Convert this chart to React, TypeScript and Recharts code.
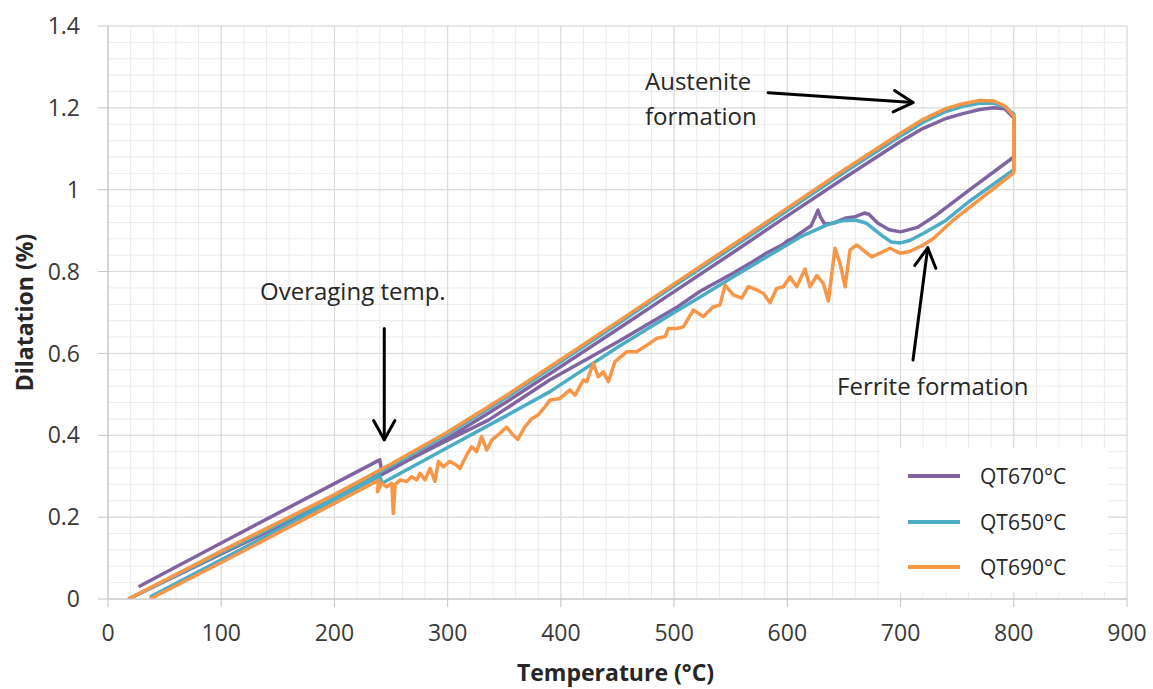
import React from "react";
import { LineChart, Line, XAxis, YAxis, CartesianGrid, ReferenceLine, ReferenceDot } from "recharts";

type Pt = [number, number];

const FONT = "'Open Sans', 'DejaVu Sans', sans-serif";
const INK = "#262626";
const PURPLE = "#8064A2";
const CYAN = "#4BACC6";
const ORANGE = "#F79646";

const X_DOMAIN: [number, number] = [0, 900];
const Y_DOMAIN: [number, number] = [0, 1.4];
const X_TICKS = [0, 100, 200, 300, 400, 500, 600, 700, 800, 900];
const Y_TICKS = [0, 0.2, 0.4, 0.6, 0.8, 1, 1.2, 1.4];
// minor grid every 20 °C / 0.04 %
const X_MINOR = Array.from({ length: 46 }, (_, i) => i * 20);
const Y_MINOR = Array.from({ length: 36 }, (_, i) => +(i * 0.04).toFixed(2));

// heating ramp, shared temperatures (°C)
const HEAT_T = [18, 100, 200, 250, 300, 350, 400, 450, 500, 550, 600, 650, 700, 720, 740, 755, 770, 782, 792, 800];
const HEAT_670 = [0, 0.11, 0.243, 0.316, 0.393, 0.478, 0.568, 0.659, 0.751, 0.843, 0.936, 1.028, 1.118, 1.15, 1.174, 1.186, 1.196, 1.2, 1.198, 1.176];
const HEAT_650 = [0, 0.113, 0.25, 0.325, 0.403, 0.489, 0.58, 0.672, 0.765, 0.856, 0.949, 1.042, 1.131, 1.165, 1.191, 1.204, 1.211, 1.211, 1.203, 1.185];
const HEAT_690 = [0, 0.117, 0.255, 0.33, 0.408, 0.494, 0.585, 0.677, 0.77, 0.862, 0.955, 1.048, 1.138, 1.172, 1.198, 1.21, 1.218, 1.217, 1.205, 1.18];

// cooling from 800 °C down to the overaging hold
const COOL_670: Pt[] = [
  [800, 1.08], [760, 0.998], [730, 0.935], [715, 0.908], [700, 0.897], [690, 0.902], [680, 0.918],
  [672, 0.94], [668, 0.943], [660, 0.934], [652, 0.931], [640, 0.918], [633, 0.916], [629, 0.935],
  [627, 0.95], [624, 0.93], [621, 0.912], [611, 0.893], [604, 0.88], [600, 0.875], [596, 0.866],
  [582, 0.846], [567, 0.82], [552, 0.796], [523, 0.752], [502, 0.712], [450, 0.628], [390, 0.535],
  [336, 0.437], [300, 0.388], [242, 0.307], [240, 0.34],
];
const COOL_650: Pt[] = [
  [800, 1.049], [760, 0.97], [740, 0.925], [720, 0.893], [708, 0.876], [700, 0.87], [692, 0.872],
  [685, 0.885], [670, 0.918], [660, 0.926], [650, 0.925], [640, 0.918], [635, 0.914], [611, 0.884],
  [582, 0.836], [552, 0.787], [523, 0.738], [500, 0.7], [450, 0.615], [390, 0.506], [350, 0.445],
  [300, 0.37], [242, 0.283], [240, 0.3],
];
const COOL_690: Pt[] = [
  [800, 1.041], [746.6, 0.926], [729, 0.881], [720, 0.865], [708, 0.849], [699.5, 0.845], [690.7, 0.857],
  [681.9, 0.845], [674.5, 0.836], [668.6, 0.849], [661.3, 0.865], [655.4, 0.853], [651, 0.763],
  [646.5, 0.82], [642.1, 0.857], [636.2, 0.728], [631.8, 0.771], [626, 0.79], [620, 0.763],
  [615.6, 0.806], [608.3, 0.763], [602.4, 0.787], [596.5, 0.763], [590.6, 0.759], [584.7, 0.724],
  [578.8, 0.747], [573, 0.755], [565.5, 0.763], [559.7, 0.735], [552.3, 0.743], [545, 0.767],
  [540.5, 0.718], [534.6, 0.714], [525.8, 0.69], [517, 0.706], [508.1, 0.665], [502.3, 0.661],
  [494.9, 0.661], [492, 0.641], [484.6, 0.637], [478.7, 0.625], [466.9, 0.604], [458.1, 0.604],
  [447.8, 0.58], [441.9, 0.531], [437.5, 0.555], [433, 0.543], [428.6, 0.576], [422.8, 0.531],
  [419.8, 0.535], [412.5, 0.498], [408, 0.511], [399.2, 0.49], [390.4, 0.486], [386, 0.47],
  [380, 0.45], [374, 0.44], [368, 0.42], [362, 0.39], [358, 0.4], [352, 0.42], [346.2, 0.405],
  [338.9, 0.388], [334.5, 0.364], [330, 0.397], [325.6, 0.36], [321.2, 0.372], [316.8, 0.352],
  [310.9, 0.319], [308, 0.327], [302, 0.336], [296.2, 0.323], [291.8, 0.336], [288.8, 0.287],
  [284.4, 0.319], [280, 0.291], [275.6, 0.307], [272.6, 0.291], [268.2, 0.299], [263.8, 0.287],
  [257.9, 0.291], [253.5, 0.279], [252, 0.209], [250.6, 0.283], [246.1, 0.274], [241.7, 0.283],
  [238, 0.262],
];

// final cooling to room temperature after the hold
const FINAL_670: Pt[] = [[240, 0.34], [100, 0.137], [27, 0.03]];
const FINAL_650: Pt[] = [[240, 0.3], [100, 0.096], [37, 0.005]];
const FINAL_690: Pt[] = [[239, 0.29], [100, 0.089], [37, 0]];

const heat = (vals: number[]): Pt[] => HEAT_T.map((t, i) => [t, vals[i]] as Pt);
const toRows = (pts: Pt[]) => pts.map(([t, d]) => ({ t, d }));

const SERIES = [
  { name: "QT670°C", color: PURPLE, rows: toRows([...heat(HEAT_670), ...COOL_670, ...FINAL_670]) },
  { name: "QT650°C", color: CYAN, rows: toRows([...heat(HEAT_650), ...COOL_650, ...FINAL_650]) },
  { name: "QT690°C", color: ORANGE, rows: toRows([...heat(HEAT_690), ...COOL_690, ...FINAL_690]) },
];

// annotation arrows (data coords) and labels
const ARROWS: [Pt, Pt][] = [
  [[244, 0.661], [244, 0.389]],
  [[583, 1.237], [711, 1.213]],
  [[711, 0.584], [724, 0.858]],
];
const NOTES: { x: number; y: number; text: string }[] = [
  { x: 134.3, y: 0.7305, text: "Overaging temp." },
  { x: 474.3, y: 1.2436, text: "Austenite" },
  { x: 474.3, y: 1.158, text: "formation" },
  { x: 643.9, y: 0.498, text: "Ferrite formation" },
];

function Arrow(props: any) {
  const { x1, y1, x2, y2 } = props;
  const a = Math.atan2(y2 - y1, x2 - x1);
  const h = (29 * Math.PI) / 180;
  const L = 22;
  const p1 = [x2 - L * Math.cos(a - h), y2 - L * Math.sin(a - h)];
  const p2 = [x2 - L * Math.cos(a + h), y2 - L * Math.sin(a + h)];
  return (
    <g stroke="#000" strokeWidth={3} fill="none" strokeLinecap="round" strokeLinejoin="round">
      <line x1={x1} y1={y1} x2={x2} y2={y2} />
      <polyline points={`${p1[0]},${p1[1]} ${x2},${y2} ${p2[0]},${p2[1]}`} />
    </g>
  );
}

// minor grid: use the axis scale when the generator gets one, else map across the plot box
const minorV = ({ xAxis, offset }: any) =>
  X_MINOR.map((v) =>
    typeof xAxis?.scale === "function"
      ? xAxis.scale(v)
      : offset.left + ((v - X_DOMAIN[0]) / (X_DOMAIN[1] - X_DOMAIN[0])) * offset.width,
  );
const minorH = ({ yAxis, offset }: any) =>
  Y_MINOR.map((v) =>
    typeof yAxis?.scale === "function"
      ? yAxis.scale(v)
      : offset.top + (1 - (v - Y_DOMAIN[0]) / (Y_DOMAIN[1] - Y_DOMAIN[0])) * offset.height,
  );

export default function App() {
  const tick = { fill: "#3a3a3a", fontSize: 23, fontFamily: FONT };
  return (
    <div style={{ position: "absolute", left: 0, top: 0, width: 1153, height: 689, background: "#fff", fontFamily: FONT }}>
      <LineChart width={1153} height={689} margin={{ top: 26, right: 26, bottom: 0, left: 0 }}>
        <CartesianGrid stroke="#ebebeb" verticalCoordinatesGenerator={minorV} horizontalCoordinatesGenerator={minorH} />
        <CartesianGrid stroke="#d9d9d9" />
        <XAxis
          type="number" dataKey="t" domain={X_DOMAIN} ticks={X_TICKS} interval={0} allowDataOverflow
          height={90} tickSize={8} tickMargin={18} tick={tick}
          axisLine={{ stroke: "#c4c4c4" }} tickLine={{ stroke: "#c4c4c4" }}
          label={({ viewBox }: any) => (
            <text x={viewBox.x + viewBox.width / 2 - 2} y={viewBox.y + 82} textAnchor="middle"
              fontFamily={FONT} fontSize={23} fontWeight={700} fill={INK}>
              Temperature (°C)
            </text>
          )}
        />
        <YAxis
          type="number" domain={Y_DOMAIN} ticks={Y_TICKS} interval={0} allowDataOverflow
          width={108} tickSize={10} tickMargin={18} tick={tick} tickFormatter={(v) => String(v)}
          axisLine={{ stroke: "#c4c4c4" }} tickLine={{ stroke: "#c4c4c4" }}
          label={({ viewBox }: any) => {
            const cy = viewBox.y + viewBox.height / 2;
            return (
              <text x={33} y={cy} transform={`rotate(-90, 33, ${cy})`} textAnchor="middle"
                fontFamily={FONT} fontSize={23} fontWeight={700} fill={INK}>
                Dilatation (%)
              </text>
            );
          }}
        />
        {SERIES.map((s) => (
          <Line key={s.name} data={s.rows} dataKey="d" name={s.name} type="linear" stroke={s.color}
            strokeWidth={3.5} dot={false} activeDot={false} isAnimationActive={false} strokeLinejoin="round" />
        ))}
        {ARROWS.map(([a, b], i) => (
          <ReferenceLine key={`arrow-${i}`} segment={[{ x: a[0], y: a[1] }, { x: b[0], y: b[1] }]} shape={Arrow} />
        ))}
        {NOTES.map((n) => (
          <ReferenceDot key={n.text} x={n.x} y={n.y} r={0}
            shape={(p: any) => (
              <text x={p.cx} y={p.cy} fontFamily={FONT} fontSize={24} fill={INK}>{n.text}</text>
            )}
          />
        ))}
      </LineChart>
      <div style={{ position: "absolute", left: 880, top: 448, width: 228, height: 144, background: "#fff" }}>
        {SERIES.map((s, i) => (
          <div key={s.name} style={{ position: "absolute", left: 28, top: 16 + i * 45.5, height: 24, display: "flex", alignItems: "center" }}>
            <span style={{ display: "inline-block", width: 52, height: 4, background: s.color }} />
            <span style={{ marginLeft: 20, fontSize: 21, lineHeight: "24px", color: INK }}>{s.name}</span>
          </div>
        ))}
      </div>
    </div>
  );
}
